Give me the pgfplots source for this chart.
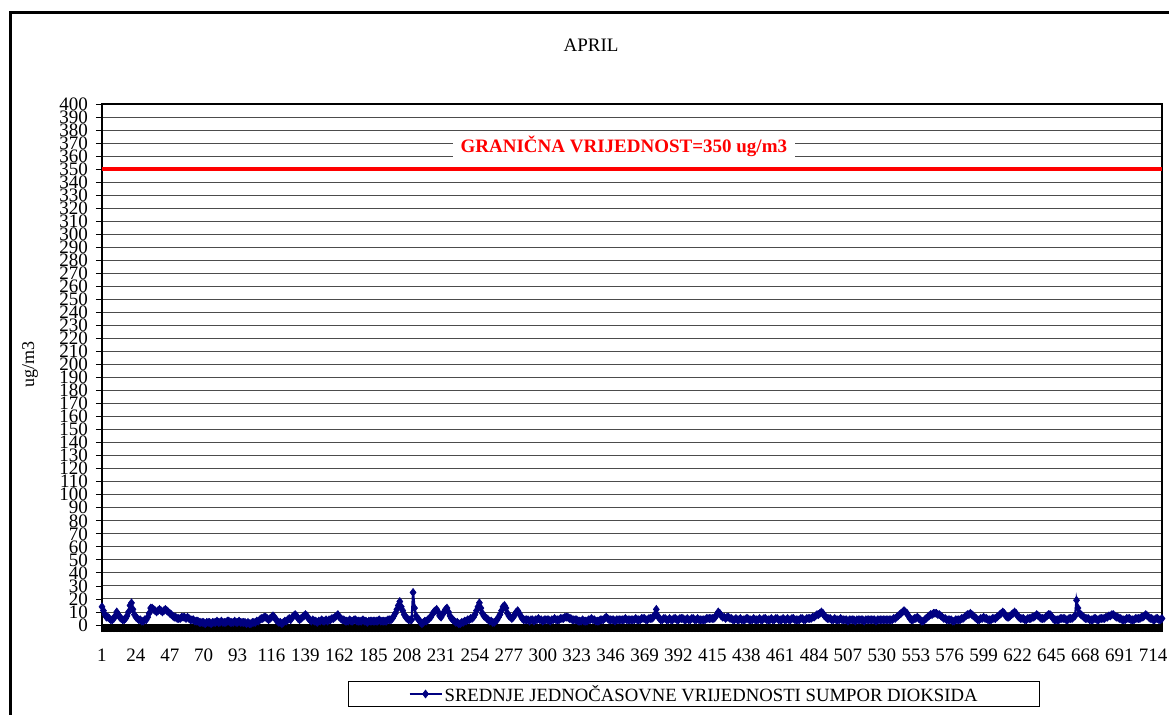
\documentclass[border=0pt]{standalone}
\usepackage{fontspec}
\setmainfont{Liberation Serif}
\usepackage{pgfplots}
\pgfplotsset{compat=1.18}
\definecolor{navyblue}{RGB}{0,0,128}
\begin{document}
\begin{tikzpicture}
\path[use as bounding box] (0bp,0bp) rectangle (1169bp,715bp);
\draw[line width=3bp] (10bp,-5bp) -- (10bp,702bp) -- (1180bp,702bp);
\node[font=\rmfamily\fontsize{19bp}{19bp}\selectfont] at (591bp,670bp) {APRIL};
\node[rotate=90,font=\rmfamily\fontsize{18bp}{18bp}\selectfont] at (30bp,350bp) {ug/m3};
\begin{axis}[
  at={(102bp,90bp)}, anchor=south west, scale only axis,
  width=1060bp, height=521bp,
  xmin=1, xmax=720, ymin=0, ymax=400,
  clip=false,
  ytick={0,10,...,400},
  xtick={1,24,...,714},
  minor xtick={1,2,...,720},
  ymajorgrids,
  grid style={black!70, line width=0.9bp},
  tick align=outside, tick pos=left,
  major tick length=6bp, minor tick length=7bp,
  tick style={black, line width=0.8bp},
  minor x tick style={line width=1.7bp},
  axis line style={black, line width=1.2bp},
  /pgf/number format/assume math mode=true,
  ticklabel style={font=\rmfamily\fontsize{19bp}{19bp}\selectfont},
  y tick label style={inner xsep=1bp, xshift=-7bp},
  x tick label style={yshift=-14bp},
  legend style={at={(0.5585,-0.1324)}, anchor=center, draw=black, line width=0.8bp,
    inner xsep=60bp, inner ysep=2bp, font=\rmfamily\fontsize{18.7bp}{19bp}\selectfont},
  legend image code/.code={\draw[mark repeat=2,mark phase=2,#1] plot coordinates {(0bp,0bp) (16bp,0bp) (32bp,0bp)};},
]
\addplot[navyblue, line width=2.2bp, mark=diamond*, mark size=4bp, mark options={solid, fill=navyblue, draw=navyblue, line width=0.6bp}]
  table[row sep=\\, header=false, x expr=\coordindex+1, y index=0] {
14\\11\\8\\6\\6\\5\\4\\4\\5\\7\\10\\8\\6\\5\\4\\4\\5\\7\\10\\15\\17\\12\\8\\6\\
5\\4\\4\\3\\3\\4\\4\\6\\9\\13\\13\\12\\11\\10\\11\\12\\11\\10\\11\\12\\11\\10\\9\\8\\
7\\6\\6\\5\\5\\5\\6\\6\\6\\5\\6\\5\\4\\4\\4\\3\\3\\3\\2\\2\\2\\2\\1\\2\\
2\\2\\1\\2\\2\\2\\3\\2\\2\\3\\2\\2\\2\\3\\3\\2\\2\\2\\3\\2\\2\\3\\2\\2\\
2\\2\\1\\2\\1\\1\\2\\2\\2\\3\\3\\4\\5\\5\\6\\6\\5\\4\\5\\6\\7\\6\\4\\3\\
2\\2\\1\\2\\3\\3\\4\\5\\4\\6\\7\\8\\7\\5\\4\\5\\6\\7\\8\\7\\5\\4\\3\\4\\
3\\3\\2\\3\\3\\4\\3\\3\\4\\3\\4\\4\\5\\5\\6\\7\\8\\6\\5\\4\\4\\3\\3\\3\\
4\\3\\3\\4\\4\\3\\3\\3\\3\\4\\3\\3\\2\\3\\3\\3\\3\\3\\3\\3\\4\\3\\3\\3\\
3\\3\\4\\4\\4\\5\\7\\9\\12\\15\\18\\14\\11\\8\\6\\5\\4\\4\\4\\25\\13\\7\\5\\4\\
2\\1\\2\\3\\3\\4\\5\\6\\8\\10\\11\\12\\10\\7\\6\\8\\10\\12\\13\\10\\7\\5\\4\\3\\
2\\2\\1\\1\\2\\2\\3\\3\\4\\4\\5\\5\\6\\8\\11\\14\\17\\13\\9\\7\\6\\5\\4\\3\\
3\\2\\2\\3\\4\\6\\8\\11\\14\\15\\13\\9\\7\\6\\5\\6\\8\\10\\11\\9\\7\\5\\4\\4\\
4\\4\\3\\4\\4\\3\\4\\4\\5\\4\\4\\3\\4\\4\\4\\4\\3\\4\\4\\5\\4\\4\\4\\5\\
5\\5\\6\\6\\6\\5\\5\\4\\4\\4\\4\\3\\3\\3\\4\\3\\3\\3\\4\\4\\5\\4\\4\\3\\
3\\3\\4\\4\\4\\5\\6\\5\\4\\4\\4\\4\\3\\4\\4\\4\\4\\4\\4\\5\\4\\4\\4\\4\\
4\\4\\5\\4\\4\\4\\5\\5\\5\\4\\4\\5\\5\\5\\6\\8\\12\\7\\5\\4\\4\\5\\5\\4\\
4\\5\\4\\4\\5\\5\\4\\4\\5\\5\\5\\4\\4\\5\\4\\4\\5\\5\\4\\4\\5\\4\\4\\4\\
4\\4\\5\\5\\5\\5\\5\\5\\6\\8\\10\\9\\7\\6\\6\\5\\6\\6\\5\\5\\4\\4\\5\\4\\
4\\5\\4\\4\\4\\5\\5\\4\\4\\4\\5\\4\\4\\4\\5\\4\\4\\5\\5\\4\\4\\4\\5\\4\\
4\\5\\5\\4\\4\\4\\5\\4\\4\\5\\4\\4\\5\\5\\4\\4\\4\\4\\5\\5\\4\\4\\5\\5\\
5\\5\\6\\6\\7\\8\\8\\9\\10\\9\\7\\6\\5\\5\\5\\4\\4\\5\\4\\4\\4\\5\\4\\4\\
4\\4\\3\\4\\4\\4\\4\\3\\4\\4\\4\\4\\4\\3\\4\\4\\4\\4\\4\\4\\4\\3\\4\\4\\
4\\4\\4\\4\\4\\4\\4\\4\\4\\5\\5\\6\\7\\8\\9\\10\\11\\10\\9\\7\\5\\4\\4\\5\\
5\\6\\5\\4\\3\\3\\4\\5\\6\\7\\8\\8\\9\\9\\9\\8\\8\\7\\6\\5\\5\\4\\4\\4\\
4\\3\\3\\4\\4\\4\\4\\5\\5\\6\\7\\8\\8\\9\\8\\7\\6\\5\\4\\4\\5\\5\\6\\5\\
5\\4\\4\\4\\5\\5\\5\\6\\7\\8\\9\\10\\9\\7\\6\\6\\7\\8\\9\\10\\9\\7\\6\\5\\
5\\5\\4\\4\\5\\5\\5\\6\\6\\7\\8\\7\\6\\5\\5\\5\\6\\7\\8\\8\\7\\5\\4\\4\\
4\\4\\5\\5\\5\\5\\4\\4\\5\\5\\5\\6\\7\\19\\13\\9\\8\\7\\6\\5\\5\\5\\4\\4\\
4\\5\\5\\4\\4\\5\\5\\5\\5\\6\\6\\7\\7\\8\\8\\7\\6\\6\\5\\5\\4\\4\\4\\5\\
5\\5\\4\\4\\4\\5\\5\\5\\5\\6\\6\\7\\8\\7\\6\\5\\5\\4\\4\\5\\5\\4\\4\\5\\
};
\addlegendentry{SREDNJE JEDNOČASOVNE VRIJEDNOSTI SUMPOR DIOKSIDA}
\addplot[red, line width=4bp, forget plot] coordinates {(1,350) (720,350)};
\node[fill=white, text=red, inner xsep=8bp, inner ysep=0bp, minimum height=25bp,
  font=\rmfamily\bfseries\fontsize{19bp}{19bp}\selectfont] at (axis cs:355,367.5) {GRANIČNA VRIJEDNOST=350 ug/m3};
\end{axis}
\end{tikzpicture}
\end{document}
